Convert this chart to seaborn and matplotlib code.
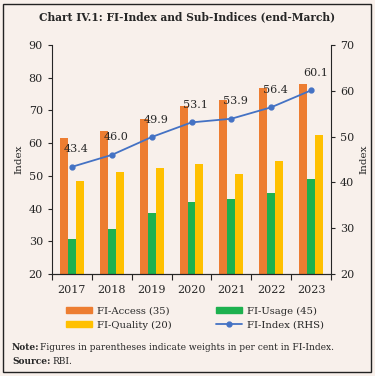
import numpy as np
import pandas as pd
import seaborn as sns
import matplotlib.pyplot as plt
from matplotlib.lines import Line2D
from matplotlib.patches import Patch, Rectangle

# Dados
years = ['2017', '2018', '2019', '2020', '2021', '2022', '2023']
fi_access = [61.7, 63.7, 67.5, 71.5, 73.2, 77.0, 78.2]
fi_usage = [30.7, 33.7, 38.7, 41.9, 42.9, 44.8, 49.1]
fi_quality = [48.4, 51.2, 52.5, 53.7, 50.6, 54.5, 62.5]
fi_index = [43.4, 46.0, 49.9, 53.1, 53.9, 56.4, 60.1]
series_names = ['FI-Access (35)', 'FI-Usage (45)', 'FI-Quality (20)']
index_name = 'FI-Index (RHS)'

bg = '#f8f0eb'
colors = ['#ed7d31', '#1db14f', '#ffc000']
line_color = '#4472c4'

df = pd.DataFrame({
    'Year': years * 3,
    'Value': fi_access + fi_usage + fi_quality,
    'Series': [series_names[0]] * 7 + [series_names[1]] * 7 + [series_names[2]] * 7,
})

sns.set_style('ticks')
plt.rcParams['font.family'] = ['DejaVu Serif']
plt.rcParams['font.size'] = 7.5

fig = plt.figure(figsize=(3.75, 3.76), dpi=100, facecolor=bg)
ax = fig.add_axes([52 / 375, 1 - 274 / 376, (331 - 52) / 375, (274 - 45) / 376])
ax.set_facecolor(bg)

sns.barplot(data=df, x='Year', y='Value', hue='Series', hue_order=series_names,
            palette=colors, width=0.6, ax=ax, legend=False, saturation=1,
            linewidth=0, edgecolor='none', gap=0)
ax.set_ylim(20, 90)
ax.set_yticks(range(20, 91, 10))
ax.set_xlim(-0.5, 6.5)
ax.set_xlabel('')
ax.set_ylabel('Index', fontsize=7.5)
ax.set_xticks(np.arange(-0.5, 7, 1))
ax.set_xticklabels([])
ax.set_xticks(range(7), minor=True)
ax.set_xticklabels(years, minor=True, fontsize=8)
ax.tick_params(axis='x', which='minor', length=0, pad=8)
ax.tick_params(axis='x', which='major', length=4, direction='out')
ax.tick_params(axis='y', labelsize=8, length=3)
for s in ['top', 'right']:
    ax.spines[s].set_visible(False)

ax2 = ax.twinx()
ax2.plot(range(7), fi_index, color=line_color, marker='o', markersize=3.5, linewidth=1.3)
ax2.set_ylim(20, 70)
ax2.set_yticks(range(20, 71, 10))
ax2.set_ylabel('Index', fontsize=7.5)
ax2.tick_params(axis='y', labelsize=8, length=3)
for s in ['top', 'left']:
    ax2.spines[s].set_visible(False)
for i, v in enumerate(fi_index):
    ax2.annotate(f'{v:.1f}', (i, v), xytext=(3, 9), textcoords='offset points',
                 ha='center', va='bottom', fontsize=8)

fig.text(0.5, 1 - 17 / 376, 'Chart IV.1: FI-Index and Sub-Indices (end-March)',
         ha='center', va='center', fontsize=7.7, fontweight='bold')

handles = [Patch(color=colors[0]), Patch(color=colors[2]),
           Patch(color=colors[1]),
           Line2D([0], [0], color=line_color, marker='o', markersize=3.5, linewidth=1.3)]
labels = [series_names[0], series_names[2], series_names[1], index_name]
fig.legend(handles, labels, ncol=2, loc='center', bbox_to_anchor=(0.52, 1 - 318 / 376),
           frameon=False, fontsize=7.2, handlelength=2.6, handleheight=0.6,
           handletextpad=0.5, columnspacing=4.4, labelspacing=0.5)

fig.text(12 / 375, 1 - 347 / 376, 'Note:', fontsize=6.5, fontweight='bold', va='center')
fig.text(40 / 375, 1 - 347 / 376, 'Figures in parentheses indicate weights in per cent in FI-Index.',
         fontsize=6.5, va='center')
fig.text(12 / 375, 1 - 361 / 376, 'Source:', fontsize=6.5, fontweight='bold', va='center')
fig.text(52 / 375, 1 - 361 / 376, 'RBI.', fontsize=6.5, va='center')

fig.patches.append(Rectangle((3 / 375, 4 / 376), 368 / 375, 368 / 376, transform=fig.transFigure,
                             fill=False, edgecolor='#222222', linewidth=1.0))

fig.savefig('out.png', dpi=100, facecolor=bg)
